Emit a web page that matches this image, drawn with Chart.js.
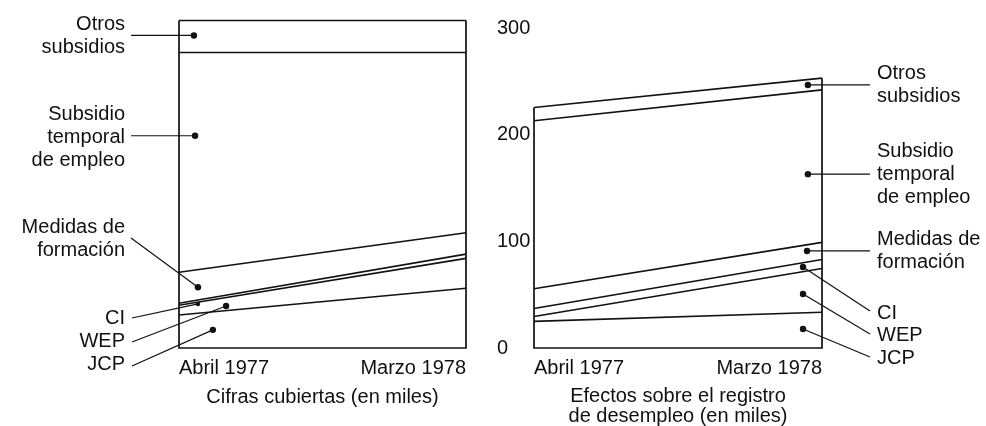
<!DOCTYPE html>
<html>
<head>
<meta charset="utf-8">
<script src="https://cdn.jsdelivr.net/npm/chart.js@4.4.1/dist/chart.umd.min.js"></script>
<style>
  html, body { margin: 0; padding: 0; background: #fff; }
  #wrap { position: relative; width: 986px; height: 426px; }
  canvas { position: absolute; left: 0; top: 0; }
</style>
</head>
<body>
<div id="wrap">
  <canvas id="covered" width="986" height="426"></canvas>
  <canvas id="register" width="986" height="426"></canvas>
</div>
<script>
const periods = ['Abril 1977', 'Marzo 1978'];
const seriesNames = ['JCP', 'WEP', 'CI', 'Medidas de formación', 'Subsidio temporal de empleo', 'Otros subsidios'];

// Cifras cubiertas (en miles), apiladas de abajo arriba
const coveredJCP = [31, 56];
const coveredWEP = [9, 28];
const coveredCI = [2, 4];
const coveredTraining = [29, 20];
const coveredTES = [206, 169];
const coveredOther = [30, 30];

// Efectos sobre el registro de desempleo (en miles)
const registerJCP = [25, 33.5];
const registerWEP = [4.5, 41];
const registerCI = [7.5, 8.5];
const registerTraining = [18.5, 16];
const registerTES = [157.5, 143];
const registerOther = [12.5, 11];

const yTicks = [0, 100, 200, 300];

const INK = '#111';
const FONT = { family: '"Liberation Sans", Arial, sans-serif', size: 20, lineHeight: 1 };
const CSS_FONT = '20px "Liberation Sans", Arial, sans-serif';

// callouts: text block, leader end next to the text, dot in data space (x index, y value)
const coveredCallouts = [
  { lines: ['Otros', 'subsidios'], textY: 24, end: [131, null], dot: [0.052, 293] },
  { lines: ['Subsidio', 'temporal', 'de empleo'], textY: 114, end: [131, null], dot: [0.056, 199] },
  { lines: ['Medidas de', 'formación'], textY: 227, end: [131, 238], dot: [0.066, 57] },
  { lines: ['CI'], textY: 318, end: [132, 318], dot: [0.066, 41.3], small: true },
  { lines: ['WEP'], textY: 341, end: [132, 342], dot: [0.164, 39.4] },
  { lines: ['JCP'], textY: 364, end: [132, 366], dot: [0.118, 17] },
];
const registerCallouts = [
  { lines: ['Otros', 'subsidios'], textY: 73, end: [870, null], dot: [0.951, 246.6] },
  { lines: ['Subsidio', 'temporal', 'de empleo'], textY: 151, end: [870, null], dot: [0.951, 163] },
  { lines: ['Medidas de', 'formación'], textY: 239, end: [870, null], dot: [0.948, 91] },
  { lines: ['CI'], textY: 313, end: [870, 311], dot: [0.934, 76] },
  { lines: ['WEP'], textY: 335, end: [870, 334], dot: [0.934, 50.6] },
  { lines: ['JCP'], textY: 358, end: [870, 357], dot: [0.934, 17.8] },
];

const framePlugin = {
  id: 'frame',
  afterDatasetsDraw(chart) {
    const { ctx, scales: { x, y } } = chart;
    const last = periods.length - 1;
    const totals = periods.map((p, i) => chart.data.datasets.reduce((s, d) => s + d.data[i], 0));
    const x0 = x.getPixelForValue(0);
    const x1 = x.getPixelForValue(last);
    const yb = y.getPixelForValue(0);
    ctx.save();
    ctx.strokeStyle = INK;
    ctx.lineWidth = 1.7;
    ctx.beginPath();
    ctx.moveTo(x0, y.getPixelForValue(totals[0]));
    ctx.lineTo(x0, yb);
    ctx.lineTo(x1, yb);
    ctx.lineTo(x1, y.getPixelForValue(totals[last]));
    ctx.stroke();
    ctx.restore();
  },
};

const calloutPlugin = {
  id: 'callouts',
  afterDraw(chart, args, opts) {
    const { ctx, scales: { x, y } } = chart;
    ctx.save();
    ctx.font = CSS_FONT;
    ctx.fillStyle = INK;
    ctx.strokeStyle = INK;
    ctx.lineWidth = 1.2;
    ctx.textBaseline = 'middle';
    ctx.textAlign = opts.align;
    opts.items.forEach((item) => {
      item.lines.forEach((line, i) => ctx.fillText(line, opts.textX, item.textY + i * 23));
      const dx = x.getPixelForValue(item.dot[0]);
      const dy = y.getPixelForValue(item.dot[1]);
      const ey = item.end[1] === null ? dy : item.end[1];
      ctx.beginPath();
      ctx.moveTo(item.end[0], ey);
      ctx.lineTo(dx, dy);
      ctx.stroke();
      ctx.beginPath();
      ctx.arc(dx, dy, item.small ? 2.2 : 3.2, 0, Math.PI * 2);
      ctx.fill();
    });
    ctx.restore();
  },
};

function makeDatasets(values) {
  return values.map((data, i) => ({
    label: seriesNames[i],
    data: data,
    borderColor: INK,
    borderWidth: 1.6,
    pointRadius: 0,
    fill: false,
    tension: 0,
  }));
}

function xScale(title, bottomPad) {
  return {
    type: 'category',
    offset: false,
    grid: { display: false, drawTicks: false },
    border: { display: false },
    ticks: { align: 'inner', font: FONT, color: INK, padding: 10, maxRotation: 0, autoSkip: false },
    title: { display: true, text: title, font: FONT, color: INK, padding: { top: 0, bottom: bottomPad } },
    afterFit(scale) {
      scale.height = 78;
      scale.paddingLeft = 0;
      scale.paddingRight = 0;
    },
  };
}

new Chart(document.getElementById('covered'), {
  type: 'line',
  data: {
    labels: periods,
    datasets: makeDatasets([coveredJCP, coveredWEP, coveredCI, coveredTraining, coveredTES, coveredOther]),
  },
  options: {
    responsive: false,
    animation: false,
    devicePixelRatio: 1,
    events: [],
    layout: { padding: { left: 179, right: 440, top: 12, bottom: 0 } },
    scales: {
      x: xScale('Cifras cubiertas (en miles)', 19),
      y: {
        position: 'right',
        stacked: true,
        min: 0,
        max: 315,
        grid: { display: false, drawTicks: false },
        border: { display: false },
        afterBuildTicks(scale) { scale.ticks = yTicks.map((v) => ({ value: v })); },
        ticks: { font: FONT, color: INK, padding: 31 },
        afterFit(scale) {
          scale.width = 80;
          scale.paddingTop = 0;
          scale.paddingBottom = 0;
        },
      },
    },
    plugins: {
      legend: { display: false },
      tooltip: { enabled: false },
      callouts: { items: coveredCallouts, textX: 125, align: 'right' },
    },
  },
  plugins: [framePlugin, calloutPlugin],
});

new Chart(document.getElementById('register'), {
  type: 'line',
  data: {
    labels: periods,
    datasets: makeDatasets([registerJCP, registerWEP, registerCI, registerTraining, registerTES, registerOther]),
  },
  options: {
    responsive: false,
    animation: false,
    devicePixelRatio: 1,
    events: [],
    layout: { padding: { left: 534, right: 164, top: 12, bottom: 0 } },
    scales: {
      x: xScale(['Efectos sobre el registro', 'de desempleo (en miles)'], 0),
      y: { display: false, stacked: true, min: 0, max: 315 },
    },
    plugins: {
      legend: { display: false },
      tooltip: { enabled: false },
      callouts: { items: registerCallouts, textX: 877, align: 'left' },
    },
  },
  plugins: [framePlugin, calloutPlugin],
});
</script>
</body>
</html>
